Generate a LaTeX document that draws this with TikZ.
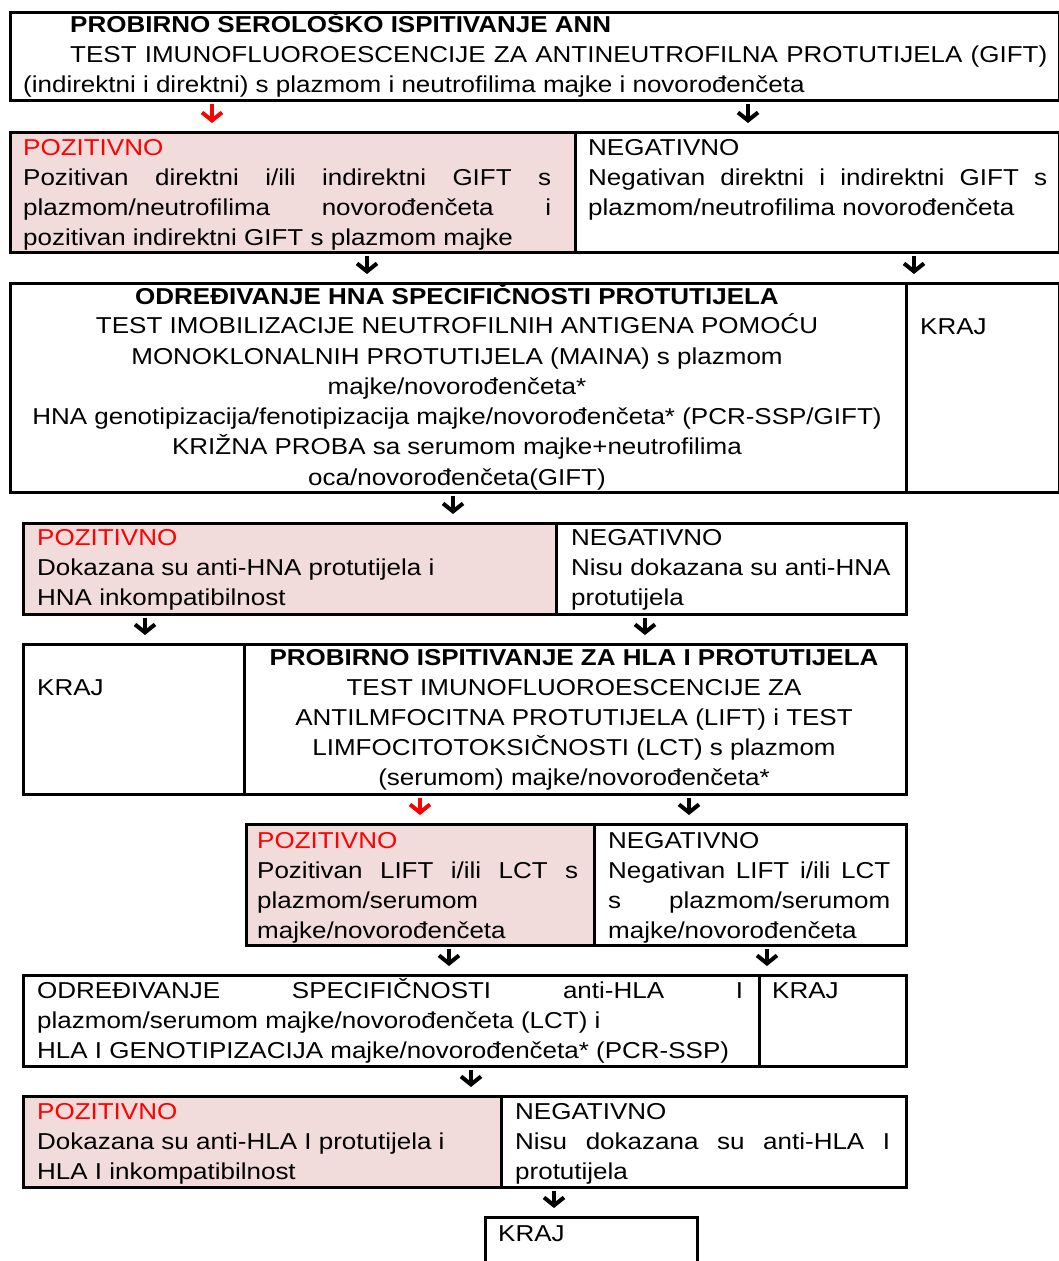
\documentclass[tikz,border=0pt]{standalone}
\usepackage{fontspec}
\setmainfont[FakeStretch=1.13]{Liberation Sans}
\usetikzlibrary{arrows.meta}
\definecolor{posfill}{HTML}{F2DCDB}
\definecolor{posred}{HTML}{FF0000}
\newcommand{\jline}[2]{\makebox[#1][s]{#2}}
\begin{document}
\begin{tikzpicture}[x=1pt,y=-1pt,
  box/.style={draw,line width=2.5pt,inner sep=0pt,anchor=north west},
  posbox/.style={box,fill=posfill},
  txt/.style={anchor=base west,inner sep=0pt,font=\fontsize{23}{30}\selectfont},
  ctxt/.style={txt,anchor=base},
  hd/.style={font=\fontsize{23}{30}\selectfont\bfseries},
  arr/.style={line width=4pt,shorten <=2pt,shorten >=8pt,-{Straight Barb[length=8pt,width=20pt,line width=4pt]}},
  redarr/.style={arr,draw=posred}]
\path[use as bounding box] (0,0) rectangle (1059,1261);
\clip (0,0) rectangle (1059,1261);
% boxes
\node[box,minimum width=1049pt,minimum height=88pt] (ann) at (9,11) {};
\node[posbox,minimum width=565pt,minimum height=120pt] (pozA) at (9,131) {};
\node[box,minimum width=484pt,minimum height=120pt] (negA) at (574,131) {};
\node[box,minimum width=896pt,minimum height=209pt] (hna) at (9,282) {};
\node[box,minimum width=153pt,minimum height=209pt] (krajA) at (905,282) {};
\node[posbox,minimum width=533pt,minimum height=91pt] (pozB) at (22,522) {};
\node[box,minimum width=350pt,minimum height=91pt] (negB) at (555,522) {};
\node[box,minimum width=221pt,minimum height=150pt] (krajB) at (22,643) {};
\node[box,minimum width=662pt,minimum height=150pt] (hla) at (243,643) {};
\node[posbox,minimum width=348pt,minimum height=121pt] (pozC) at (245,823) {};
\node[box,minimum width=312pt,minimum height=121pt] (negC) at (593,823) {};
\node[box,minimum width=736pt,minimum height=91pt] (spec) at (22,974) {};
\node[box,minimum width=147pt,minimum height=91pt] (krajC) at (758,974) {};
\node[posbox,minimum width=478pt,minimum height=91pt] (pozD) at (22,1095) {};
\node[box,minimum width=405pt,minimum height=91pt] (negD) at (500,1095) {};
\node[box,minimum width=212pt,minimum height=70pt] (krajD) at (484,1216) {};
% texts
\node[txt,hd] (t1) at (70,32) {PROBIRNO SEROLOŠKO ISPITIVANJE ANN};
\node[txt] (t2) at (70,62) {\jline{977pt}{TEST IMUNOFLUOROESCENCIJE ZA ANTINEUTROFILNA PROTUTIJELA (GIFT)}};
\node[txt] (t3) at (23,92) {(indirektni i direktni) s plazmom i neutrofilima majke i novorođenčeta};
\node[txt,text=posred] (pa1) at (23,155) {POZITIVNO};
\node[txt] (pa2) at (23,185) {\jline{528pt}{Pozitivan direktni i/ili indirektni GIFT s}};
\node[txt] (pa3) at (23,215) {\jline{528pt}{plazmom/neutrofilima novorođenčeta i}};
\node[txt] (pa4) at (23,245) {pozitivan indirektni GIFT s plazmom majke};
\node[txt] (na1) at (588,155) {NEGATIVNO};
\node[txt] (na2) at (588,185) {\jline{459pt}{Negativan direktni i indirektni GIFT s}};
\node[txt] (na3) at (588,215) {plazmom/neutrofilima novorođenčeta};
\node[ctxt,hd] (h1) at (457,304) {ODREĐIVANJE HNA SPECIFIČNOSTI PROTUTIJELA};
\node[ctxt] (h2) at (457,333) {TEST IMOBILIZACIJE NEUTROFILNIH ANTIGENA POMOĆU};
\node[ctxt] (h3) at (457,364) {MONOKLONALNIH PROTUTIJELA (MAINA) s plazmom};
\node[ctxt] (h4) at (457,394) {majke/novorođenčeta*};
\node[ctxt] (h5) at (457,424) {HNA genotipizacija/fenotipizacija majke/novorođenčeta* (PCR-SSP/GIFT)};
\node[ctxt] (h6) at (457,454) {KRIŽNA PROBA sa serumom majke+neutrofilima};
\node[ctxt] (h7) at (457,485) {oca/novorođenčeta(GIFT)};
\node[txt] (ka) at (920,334) {KRAJ};
\node[txt,text=posred] (pb1) at (37,545) {POZITIVNO};
\node[txt] (pb2) at (37,575) {Dokazana su anti-HNA protutijela i};
\node[txt] (pb3) at (37,605) {HNA inkompatibilnost};
\node[txt] (nb1) at (571,545) {NEGATIVNO};
\node[txt] (nb2) at (571,575) {Nisu dokazana su anti-HNA};
\node[txt] (nb3) at (571,605) {protutijela};
\node[txt] (kb) at (37,695) {KRAJ};
\node[ctxt,hd] (l1) at (574,665) {PROBIRNO ISPITIVANJE ZA HLA I PROTUTIJELA};
\node[ctxt] (l2) at (574,695) {TEST IMUNOFLUOROESCENCIJE ZA};
\node[ctxt] (l3) at (574,725) {ANTILMFOCITNA PROTUTIJELA (LIFT) i TEST};
\node[ctxt] (l4) at (574,755) {LIMFOCITOTOKSIČNOSTI (LCT) s plazmom};
\node[ctxt] (l5) at (574,785) {(serumom) majke/novorođenčeta*};
\node[txt,text=posred] (pc1) at (257,848) {POZITIVNO};
\node[txt] (pc2) at (257,878) {\jline{321pt}{Pozitivan LIFT i/ili LCT s}};
\node[txt] (pc3) at (257,908) {plazmom/serumom};
\node[txt] (pc4) at (257,938) {majke/novorođenčeta};
\node[txt] (nc1) at (608,848) {NEGATIVNO};
\node[txt] (nc2) at (608,878) {\jline{282pt}{Negativan LIFT i/ili LCT}};
\node[txt] (nc3) at (608,908) {\jline{282pt}{s plazmom/serumom}};
\node[txt] (nc4) at (608,938) {majke/novorođenčeta};
\node[txt] (s1) at (37,998) {\jline{706pt}{ODREĐIVANJE SPECIFIČNOSTI anti-HLA I}};
\node[txt] (s2) at (37,1028) {plazmom/serumom majke/novorođenčeta (LCT) i};
\node[txt] (s3) at (37,1058) {HLA I GENOTIPIZACIJA majke/novorođenčeta* (PCR-SSP)};
\node[txt] (kc) at (772,998) {KRAJ};
\node[txt,text=posred] (pd1) at (37,1119) {POZITIVNO};
\node[txt] (pd2) at (37,1149) {Dokazana su anti-HLA I protutijela i};
\node[txt] (pd3) at (37,1179) {HLA I inkompatibilnost};
\node[txt] (nd1) at (515,1119) {NEGATIVNO};
\node[txt] (nd2) at (515,1149) {\jline{375pt}{Nisu dokazana su anti-HLA I}};
\node[txt] (nd3) at (515,1179) {protutijela};
\node[txt] (kd) at (498,1241) {KRAJ};
% arrows
\draw[redarr] (ann.south -| 212,0) -- (pozA.north -| 212,0);
\draw[arr] (ann.south -| 748,0) -- (negA.north -| 748,0);
\draw[arr] (pozA.south -| 367,0) -- (hna.north -| 367,0);
\draw[arr] (negA.south -| 914,0) -- (krajA.north -| 914,0);
\draw[arr] (hna.south -| 453,0) -- (pozB.north -| 453,0);
\draw[arr] (pozB.south -| 145,0) -- (krajB.north -| 145,0);
\draw[arr] (negB.south -| 645,0) -- (hla.north -| 645,0);
\draw[redarr] (hla.south -| 420,0) -- (pozC.north -| 420,0);
\draw[arr] (hla.south -| 689,0) -- (negC.north -| 689,0);
\draw[arr] (pozC.south -| 449,0) -- (spec.north -| 449,0);
\draw[arr] (negC.south -| 767,0) -- (krajC.north -| 767,0);
\draw[arr] (spec.south -| 471,0) -- (pozD.north -| 471,0);
\draw[arr] (negD.south -| 554,0) -- (krajD.north -| 554,0);
\end{tikzpicture}
\end{document}
